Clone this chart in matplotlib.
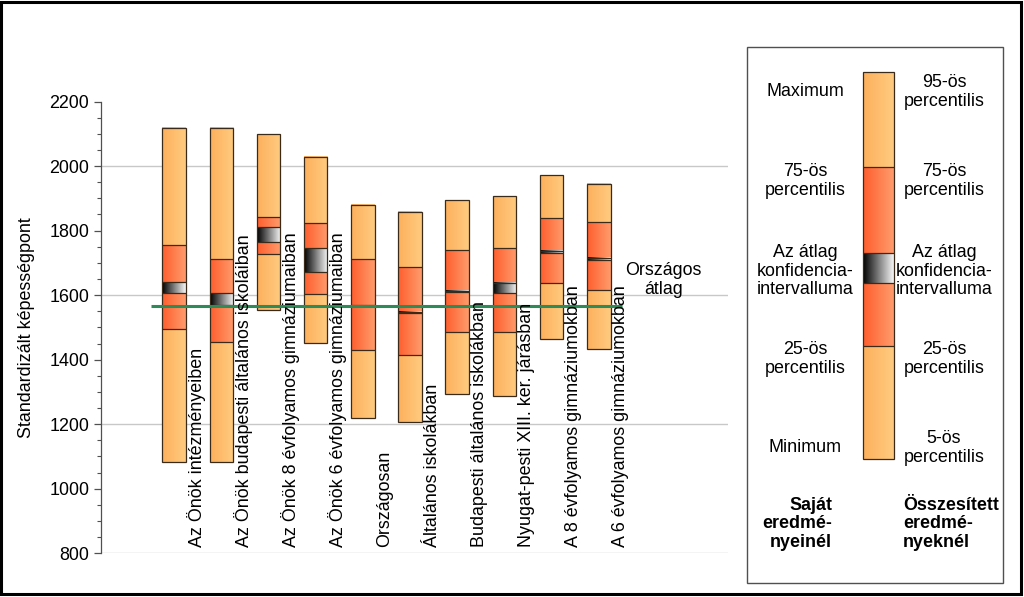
import numpy as np
import matplotlib
matplotlib.use("Agg")
import matplotlib.pyplot as plt
from matplotlib.colors import LinearSegmentedColormap
from matplotlib.patches import Rectangle

plt.rcParams['font.family'] = ['Liberation Sans', 'DejaVu Sans']

# ---------------- data ----------------
categories = [
    "Az Önök intézményeiben",
    "Az Önök budapesti általános iskoláiban",
    "Az Önök 8 évfolyamos gimnáziumaiban",
    "Az Önök 6 évfolyamos gimnáziumaiban",
    "Országosan",
    "Általános iskolákban",
    "Budapesti általános iskolákban",
    "Nyugat-pesti XIII. ker. járásban",
    "A 8 évfolyamos gimnáziumokban",
    "A 6 évfolyamos gimnáziumokban",
]
low = [1083, 1083, 1554, 1451, 1218, 1208, 1294, 1288, 1463, 1433]
p25 = [1494, 1454, 1727, 1603, 1430, 1415, 1486, 1486, 1639, 1616]
ci_low = [1608, 1569, 1766, 1673, 1565, 1545, 1609, 1606, 1730, 1709]
ci_high = [1642, 1606, 1810, 1745, 1568, 1549, 1614, 1637, 1738, 1716]
p75 = [1754, 1711, 1841, 1823, 1711, 1686, 1740, 1747, 1838, 1826]
high = [2117, 2117, 2098, 2029, 1879, 1859, 1894, 1907, 1971, 1945]
national_mean = 1566
yticks = [800, 1000, 1200, 1400, 1600, 1800, 2000, 2200]
grid_values = [800, 1200, 1600, 2000]

# ---------------- style ----------------
FS = 12.9
light = ('#FDB05C', '#FFCB80')
dark = ('#FF5E2E', '#FF9C6C')
cig = ('#000000', '#F8F8F8')
edge = '#3A2A1A'

fig = plt.figure(figsize=(10.24, 5.97), dpi=100)
W, H = 1024, 597
ax = fig.add_axes([101 / W, 1 - 553.3 / H, 627 / W, (553.3 - 101.5) / H])


def grad(a, x0, x1, y0, y1, cols, z=2):
    cmap = LinearSegmentedColormap.from_list('g', list(cols))
    a.imshow(np.linspace(0, 1, 128)[None, :], cmap=cmap, extent=[x0, x1, y0, y1],
             aspect='auto', origin='lower', interpolation='bilinear', zorder=z)


bw = 0.5
x = np.arange(len(categories))
for i in x:
    x0, x1 = i - bw / 2, i + bw / 2
    grad(ax, x0, x1, low[i], p25[i], light)
    grad(ax, x0, x1, p25[i], p75[i], dark)
    grad(ax, x0, x1, p75[i], high[i], light)
    grad(ax, x0, x1, ci_low[i], ci_high[i], cig)
    ax.hlines([p25[i], ci_low[i], ci_high[i], p75[i]], x0, x1, color=edge, lw=0.9, zorder=3)
ax.bar(x, np.array(high) - np.array(low), bottom=low, width=bw, fill=False,
       edgecolor=edge, lw=0.9, zorder=3)

for g in grid_values:
    ax.axhline(g, color='#C8C8C8', lw=1.0, zorder=1)

ax.hlines(national_mean, -0.5, len(categories) - 0.5, color='#2E8B57', lw=2.2, zorder=4)
ax.text(10.37, 1647, "Országos\nátlag", ha='center', va='center', fontsize=FS,
        linespacing=1.1, zorder=5)

for i, c in zip(x, categories):
    ax.text(i + 0.47, 818, c, rotation=90, ha='center', va='bottom', fontsize=FS, zorder=5)

ax.set_xlim(-1.55, 11.74)
ax.set_ylim(800, 2200)
ax.set_yticks(yticks)
ax.set_yticks(np.arange(800, 2201, 50), minor=True)
ax.tick_params(axis='y', which='major', length=5, labelsize=FS, color='#505050', width=0.9)
ax.tick_params(axis='y', which='minor', length=3, color='#505050', width=0.8)
ax.set_xticks([])
for s in ['top', 'right', 'bottom']:
    ax.spines[s].set_visible(False)
ax.spines['left'].set_color('#505050')
ax.spines['left'].set_linewidth(0.9)
ax.set_ylabel("Standardizált képességpont", fontsize=FS)
ax.yaxis.set_label_coords(-0.105, 0.5)

# ---------------- legend ----------------
fig.patches.append(Rectangle((747 / W, 1 - 583 / H), (1003 - 747) / W, (583 - 47.3) / H,
                             transform=fig.transFigure, fill=False, edgecolor='#505050',
                             lw=1.0, zorder=1))
lax = fig.add_axes([863 / W, 1 - 459.3 / H, 31 / W, (459.3 - 71.7) / H])
lb = [0.0, 0.293, 0.454, 0.531, 0.754, 1.0]
grad(lax, 0, 1, lb[0], lb[1], light)
grad(lax, 0, 1, lb[1], lb[4], dark)
grad(lax, 0, 1, lb[4], lb[5], light)
grad(lax, 0, 1, lb[2], lb[3], cig)
lax.hlines(lb[1:5], 0, 1, color=edge, lw=0.9, zorder=3)
lax.add_patch(Rectangle((0, 0), 1, 1, fill=False, edgecolor=edge, lw=0.9, zorder=3,
                        clip_on=False))
lax.set_xlim(0, 1)
lax.set_ylim(0, 1)
lax.axis('off')


def ftext(px, py, s, **kw):
    fig.text(px / W, 1 - py / H, s, fontsize=FS, linespacing=1.1, **kw)


left_labels = [(91, "Maximum"), (181, "75-ös\npercentilis"),
               (271, "Az átlag\nkonfidencia-\nintervalluma"),
               (359, "25-ös\npercentilis"), (448, "Minimum")]
right_labels = [(92, "95-ös\npercentilis"), (181, "75-ös\npercentilis"),
                (271, "Az átlag\nkonfidencia-\nintervalluma"),
                (359, "25-ös\npercentilis"), (448, "5-ös\npercentilis")]
for py, s in left_labels:
    ftext(805, py, s, ha='center', va='center', multialignment='center')
for py, s in right_labels:
    ftext(944, py, s, ha='center', va='center', multialignment='center')
ftext(832, 524, "Saját\neredmé-\nnyeinél", ha='right', va='center',
      multialignment='right', fontweight='bold')
ftext(903, 524, "Összesített\neredmé-\nnyeknél", ha='left', va='center',
      multialignment='left', fontweight='bold')

# outer frame
fig.patches.append(Rectangle((1 / W, 1 - 593.5 / H), 1020 / W, 592 / H,
                             transform=fig.transFigure, fill=False, edgecolor='black',
                             lw=2.2, zorder=0))

fig.savefig("out.png", dpi=100)
